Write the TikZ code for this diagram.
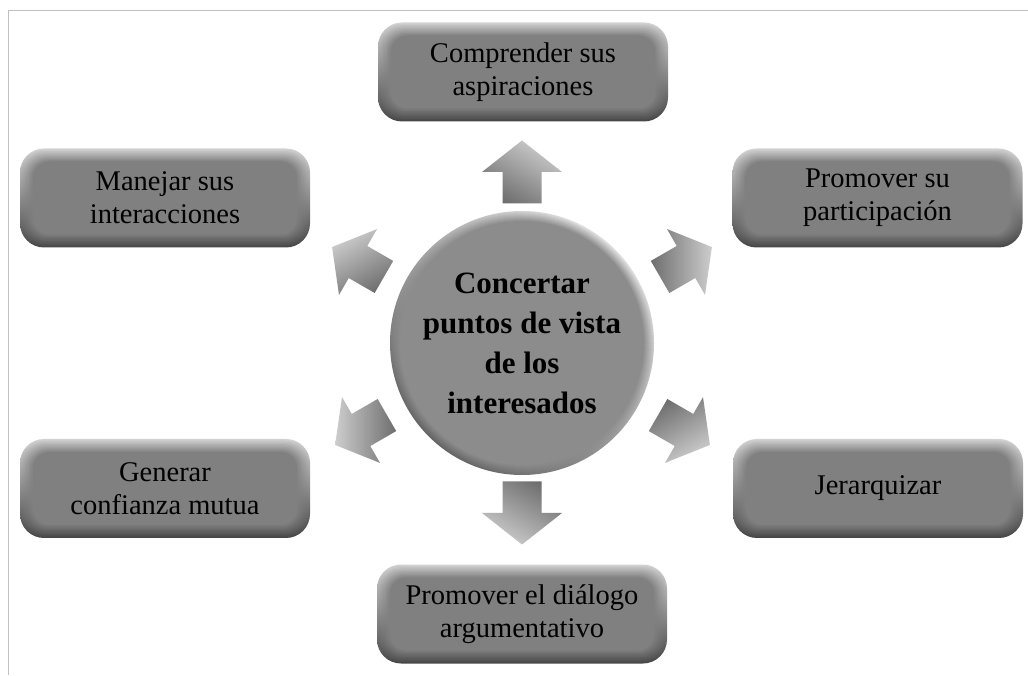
\documentclass[tikz,border=0pt]{standalone}
\usepackage{fontspec}
\setmainfont{Liberation Serif}
\usetikzlibrary{calc}
\definecolor{bface}{RGB}{128,128,128}
\definecolor{bhi}{RGB}{210,210,210}
\definecolor{blo}{RGB}{70,70,70}
\definecolor{cface}{RGB}{140,140,140}
\definecolor{chi}{RGB}{225,225,225}
\definecolor{clo}{RGB}{100,100,100}
\definecolor{arhi}{RGB}{205,205,205}
\definecolor{arlo}{RGB}{110,110,110}
\definecolor{framec}{RGB}{192,192,192}
\tikzset{
  bevelbox/.style={rectangle, rounded corners=24pt, minimum width=290pt, minimum height=99pt,
    inner sep=0pt, align=center, text=black, font=\fontsize{28.5}{33}\selectfont,
    path picture={
      \foreach \i in {0,...,10}{
        \pgfmathsetmacro\dd{1.3*\i}
        \pgfmathsetmacro\rr{24-0.6*\dd}
        \pgfmathtruncatemacro\pp{100-10*\i}
        \shade[top color=bhi!\pp!bface, bottom color=blo!\pp!bface, rounded corners=\rr pt]
          ($(path picture bounding box.south west)+(\dd pt,\dd pt)$) rectangle
          ($(path picture bounding box.north east)+(-\dd pt,-\dd pt)$);
      }
    }},
  hub/.style={circle, minimum size=264pt, inner sep=0pt, align=center, text=black,
    font=\fontsize{31}{40}\selectfont\bfseries,
    path picture={
      \foreach \i in {0,...,10}{
        \pgfmathsetmacro\dd{1.0*\i}
        \pgfmathsetmacro\rr{132-\dd}
        \pgfmathtruncatemacro\pp{100-10*\i}
        \shade[top color=chi!\pp!cface, bottom color=clo!\pp!cface, shading angle=-40]
          (path picture bounding box.center) circle[radius=\rr pt];
      }
    }},
  pics/barrow/.style n args={2}{code={
    \shade[left color=arlo, right color=arhi, shading angle=#1+60, rotate=#1, scale=#2]
      (-31.5,-19.5) -- (0,-19.5) -- (0,-40) -- (31.5,0) -- (0,40) -- (0,19.5) -- (-31.5,19.5) -- cycle;
  }}
}
\begin{document}
\begin{tikzpicture}[x=1pt,y=1pt]
\useasboundingbox (0,0) rectangle (1028,675);
\fill[white] (0,0) rectangle (1028,675);
\draw[framec, line width=1.6pt] (8.5,0) -- (8.5,664.5) -- (1028,664.5);

\node[hub] (hub) at (522,332) {Concertar\\puntos de vista\\de los\\interesados};

\node[bevelbox] (comp) at (523,603) {Comprender sus\\aspiraciones};
\node[bevelbox] (manej) at (165,477) {Manejar sus\\interacciones};
\node[bevelbox] (partic) at (877.5,477) {Promover su\\participación};
\node[bevelbox] (gener) at (165,186.5) {Generar\\confianza mutua};
\node[bevelbox] (jerar) at (878,186.5) {Jerarquizar};
\node[bevelbox] (dialog) at (522,61) {Promover el diálogo\\argumentativo};

\pic at (522,503) {barrow={90}{1}};
\pic at (522,162) {barrow={-90}{1}};
\pic at (358,413) {barrow={150}{0.95}};
\pic at (686,413) {barrow={30}{0.95}};
\pic at (361,245) {barrow={210}{0.95}};
\pic at (684,245) {barrow={-30}{0.95}};
\end{tikzpicture}
\end{document}
